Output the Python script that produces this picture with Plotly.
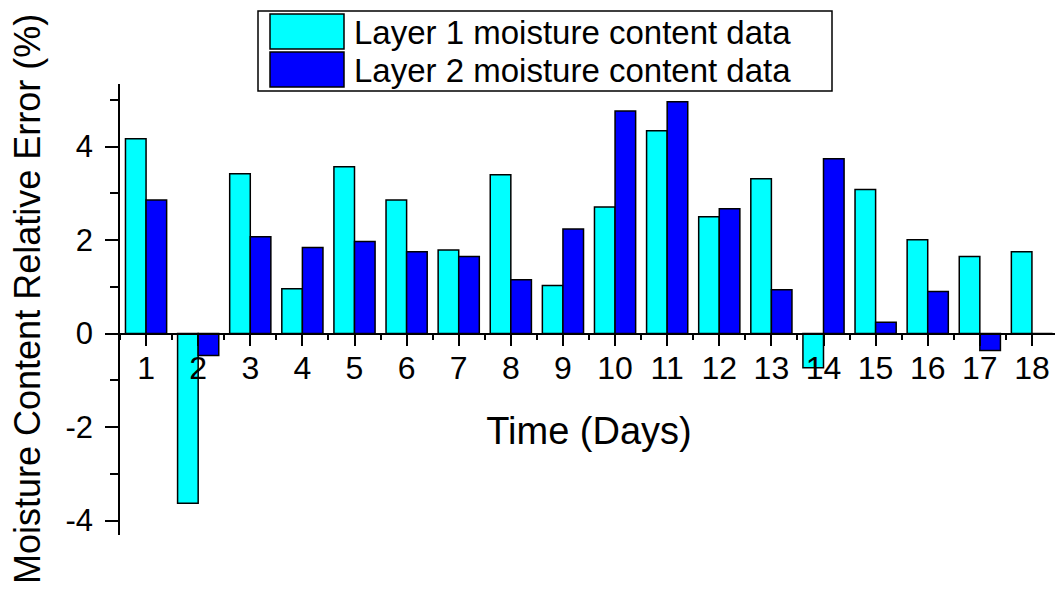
import plotly.graph_objects as go

days = list(range(1, 19))
layer1 = [4.17, -3.63, 3.42, 0.96, 3.57, 2.86, 1.79, 3.40, 1.03, 2.71, 4.34, 2.50, 3.31, -0.73, 3.08, 2.01, 1.65, 1.75]
layer2 = [2.86, -0.47, 2.07, 1.84, 1.97, 1.75, 1.65, 1.15, 2.24, 4.76, 4.96, 2.67, 0.94, 3.74, 0.24, 0.90, -0.36, 0.0]
names = ["Layer 1 moisture content data", "Layer 2 moisture content data"]
colors = ["#00FFFF", "#0000FF"]
y_ticks = [-4, -2, 0, 2, 4]

OFF = 8  # page body margin
W, H = 1063 - OFF, 592 - OFF
ML, MT = 120 - OFF, 84 - OFF
MR = W - (1058 - OFF)
MB = H - (535 - OFF)
yr = [-4.31, 5.34]
xr = [0.5, 18.5]
FONT = "Liberation Sans, Arial, sans-serif"

fig = go.Figure()
for vals, name, col in zip([layer1, layer2], names, colors):
    fig.add_trace(go.Bar(x=days, y=vals, name=name, marker=dict(color=col, line=dict(color="black", width=1.5)),
                         showlegend=False))

pw = W - ML - MR
ph = H - MT - MB
def px(x):
    return (x - OFF - ML) / pw
def py(y):
    return (H - MB - (y - OFF)) / ph

# custom legend (large swatches like the reference)
shapes = [dict(type="rect", xref="paper", yref="paper", x0=px(258), x1=px(832), y0=py(91), y1=py(11),
               line=dict(color="black", width=1.5), fillcolor="white", layer="above")]
annotations = []
for i, (name, col) in enumerate(zip(names, colors)):
    top = 14 + i * 38
    shapes.append(dict(type="rect", xref="paper", yref="paper", x0=px(270), x1=px(344), y0=py(top + 35), y1=py(top),
                       line=dict(color="black", width=1.5), fillcolor=col, layer="above"))
    annotations.append(dict(xref="paper", yref="paper", x=px(352), y=py(top + 18), xanchor="left", yanchor="middle",
                            text=name, showarrow=False, font=dict(family=FONT, size=33, color="black")))

# y-axis title placed like the reference
annotations.append(dict(xref="paper", yref="paper", x=px(27), y=py(299), xanchor="center", yanchor="middle",
                        textangle=-90, text="Moisture Content Relative Error (%)", showarrow=False,
                        font=dict(family=FONT, size=36, color="black")))

fig.update_layout(
    width=W, height=H, autosize=False,
    margin=dict(l=ML, r=MR, t=MT, b=MB),
    paper_bgcolor="white", plot_bgcolor="white",
    barmode="group", bargap=0.21, bargroupgap=0,
    shapes=shapes, annotations=annotations,
    font=dict(family=FONT, color="black"),
)
fig.update_xaxes(
    range=xr, tickmode="array", tickvals=days, ticktext=[str(d) for d in days],
    showline=True, linecolor="black", linewidth=1.5, showgrid=False, zeroline=False,
    ticks="outside", ticklen=12, tickwidth=1.5, tickcolor="black", ticklabelstandoff=-6,
    tickfont=dict(size=32, family=FONT),
    minor=dict(ticks="outside", ticklen=6, tickwidth=1.5, tickcolor="black", tickmode="linear", tick0=0.5, dtick=1, showgrid=False),
    anchor="free", position=(0 - yr[0]) / (yr[1] - yr[0]),
    title=dict(text="Time (Days)", font=dict(size=38, family=FONT), standoff=32),
)
fig.update_yaxes(
    range=yr, tickmode="array", tickvals=y_ticks, ticktext=[str(t) for t in y_ticks],
    showline=True, linecolor="black", linewidth=1.5, showgrid=False, zeroline=False,
    ticks="outside", ticklen=13, tickwidth=1.5, tickcolor="black", ticklabelstandoff=6,
    tickfont=dict(size=31, family=FONT),
    minor=dict(ticks="outside", ticklen=8, tickwidth=1.5, tickcolor="black", tickmode="linear", tick0=1, dtick=2, showgrid=False),
)

fig.write_html("out.html")
